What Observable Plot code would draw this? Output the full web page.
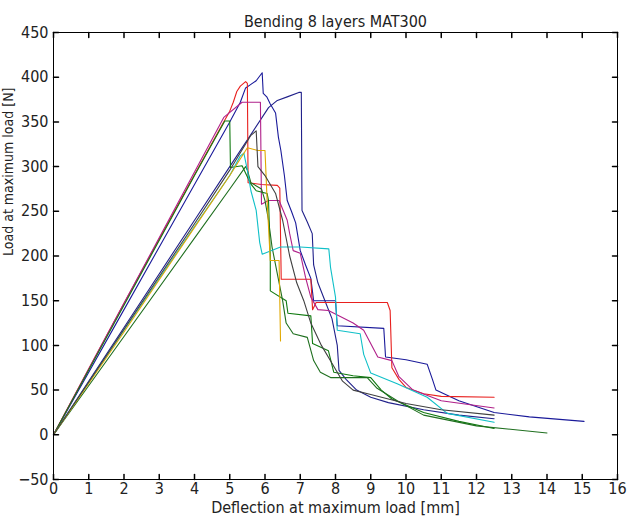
<!DOCTYPE html>
<html><head><meta charset="utf-8">
<script src="https://cdn.jsdelivr.net/npm/d3@7"></script>
<script src="https://cdn.jsdelivr.net/npm/@observablehq/plot@0.6"></script>
<style>body{margin:0;background:#fff} svg{display:block}</style>
</head><body><div id="chart"></div>
<script>
const titleText = "Bending 8 layers MAT300";
const xLabel = "Deflection at maximum load [mm]";
const yLabel = "Load at maximum load [N]";
const xTicks = [0,1,2,3,4,5,6,7,8,9,10,11,12,13,14,15,16];
const yTicks = [-50,0,50,100,150,200,250,300,350,400,450];

const navyA = [[0,0],[2,140],[4,280],[5,350],[5.3,372],[5.45,388],[5.6,392],[5.75,396],[5.92,405],[5.95,382],[6.05,378],[6.15,370],[6.3,360],[6.38,333],[6.45,318],[6.55,290],[6.63,262],[6.75,250],[6.87,237],[7.0,206],[7.15,190],[7.3,175],[7.38,150],[8.0,150],[8.05,122],[9.37,119],[9.42,87],[10.0,84],[10.6,79],[10.75,62],[10.85,50],[11.5,38],[12.5,25],[13.5,20],[15.05,15]];
const navyB = [[0,0],[2,120],[4,240],[5,300],[6.1,366],[6.35,374],[6.63,378],[6.96,383],[7.03,383],[7.05,251],[7.2,238],[7.34,225],[7.38,190],[7.5,170],[7.7,150],[7.9,130],[8.05,100],[8.1,72],[8.3,62],[8.6,50],[9.0,42],[9.5,36],[10.5,28],[11.5,22],[12.5,18]];
const red1 = [[0,0],[1,74],[2,147],[3,219],[4,291],[4.8,348],[5.0,362],[5.1,372],[5.2,384],[5.3,390],[5.45,395],[5.5,393],[5.52,282],[5.9,280],[6.35,279],[6.42,276],[6.46,174],[7.3,174],[7.35,140],[7.45,148],[9.47,148],[9.55,139],[9.6,75],[9.8,62],[10.0,53],[10.5,46],[11,43],[12.5,42]];
const magenta1 = [[0,0],[2,147],[4,294],[4.83,355],[5.35,372],[5.87,372],[5.9,258],[6.1,262],[6.4,262],[6.63,240],[6.7,225],[6.8,206],[7.0,203],[7.15,176],[7.3,154],[7.5,140],[7.8,139],[8.5,125],[8.8,117],[9.2,87],[9.6,83],[9.8,65],[10.2,50],[11,38],[12.5,30]];
const green1 = [[0,0],[2,145],[4,290],[4.86,351],[5.0,351],[5.02,299],[5.35,301],[5.59,281],[5.75,273],[6.06,270],[6.1,262],[6.15,200],[6.15,161],[6.6,150],[6.65,136],[7.3,133],[7.35,102],[7.8,94],[7.95,70],[8.5,66],[9.0,64],[9.3,50],[9.6,40],[10.5,25],[11.5,15],[12.5,7]];
const green2 = [[0,0],[2,110],[4,220],[5.0,275],[5.45,300],[5.5,296],[5.6,282],[5.9,275],[6.0,262],[6.1,240],[6.2,210],[6.35,180],[6.5,150],[6.6,125],[6.8,113],[7.2,109],[7.38,83],[7.57,70],[7.86,64],[8.9,64],[9.18,52],[9.75,38],[10.5,22],[12,10],[14,2]];
const cyan1 = [[0,0],[2,117],[4,233],[5.0,290],[5.3,312],[5.4,315],[5.5,296],[5.6,273],[5.75,251],[5.85,215],[5.92,202],[6.44,210],[7.0,210],[7.81,208],[7.86,187],[8.0,154],[8.05,117],[8.7,113],[8.8,90],[9.0,69],[9.75,57],[10.6,42],[11.17,24],[12.5,14]];
const yellow1 = [[0,0],[2,115],[4,232],[5.0,290],[5.5,321],[5.8,318],[6.0,318],[6.06,262],[6.15,195],[6.4,195],[6.44,105]];
const gray1 = [[0,0],[2,118],[4,236],[5.0,296],[5.6,335],[5.75,340],[5.8,300],[6.0,290],[6.3,270],[6.5,240],[6.7,200],[6.9,170],[7.1,150],[7.3,125],[7.6,100],[7.9,80],[8.2,60],[8.5,50],[9,45],[10,35],[11,28],[12.5,22]];

const seriesNames = ["navyA","navyB","red1","magenta1","green1","green2","cyan1","yellow1","gray1"];
const seriesColors = ["#1a1a9a","#20208a","#e8201e","#b0208a","#107a10","#1f6f1f","#10c0c8","#e0a800","#404040"];
const seriesPoints = [navyA,navyB,red1,magenta1,green1,green2,cyan1,yellow1,gray1];

const rows = seriesPoints.flatMap((pts, i) => pts.map(([x, y]) => ({id: seriesNames[i], x, y, c: seriesColors[i]})));

const tickShape = {draw(ctx, l) { ctx.moveTo(0, 0); ctx.lineTo(0, -l); }};
const font = "'DejaVu Sans Condensed','Liberation Sans Narrow',Arial,sans-serif";

const chart = Plot.plot({
  width: 627, height: 525,
  marginLeft: 53, marginRight: 10, marginTop: 32, marginBottom: 46,
  style: {fontFamily: font, fontSize: "16px", background: "#fff", color: "#000"},
  x: {domain: [0, 16], ticks: xTicks},
  y: {domain: [-50, 450], ticks: yTicks},
  color: {type: "identity"},
  marks: [
    Plot.line(rows, {x: "x", y: "y", z: "id", stroke: "c", strokeWidth: 1.1}),
    Plot.frame({stroke: "#000", strokeWidth: 1}),
    Plot.vector(xTicks, {x: d => d, frameAnchor: "bottom", length: 5, rotate: 0, anchor: "start", shape: tickShape, stroke: "#000"}),
    Plot.vector(xTicks, {x: d => d, frameAnchor: "top", length: 5, rotate: 180, anchor: "start", shape: tickShape, stroke: "#000"}),
    Plot.vector(yTicks, {y: d => d, frameAnchor: "left", length: 5, rotate: 90, anchor: "start", shape: tickShape, stroke: "#000"}),
    Plot.vector(yTicks, {y: d => d, frameAnchor: "right", length: 5, rotate: -90, anchor: "start", shape: tickShape, stroke: "#000"}),
    Plot.axisX(xTicks, {tickSize: 0, tickPadding: 3, label: null, fill: "#222", fontSize: 16}),
    Plot.axisY(yTicks, {tickSize: 0, tickPadding: 5, label: null, fill: "#222", fontSize: 16}),
    Plot.text([titleText], {frameAnchor: "top", dy: -17, text: d => d, fill: "#222", fontSize: 16}),
    Plot.text([xLabel], {frameAnchor: "bottom", dy: 33, text: d => d, fill: "#222", fontSize: 16}),
    Plot.text([yLabel], {frameAnchor: "left", dx: -45, rotate: -90, text: d => d, fill: "#222", fontSize: 14})
  ]
});
document.getElementById("chart").append(chart);
</script>
</body></html>
